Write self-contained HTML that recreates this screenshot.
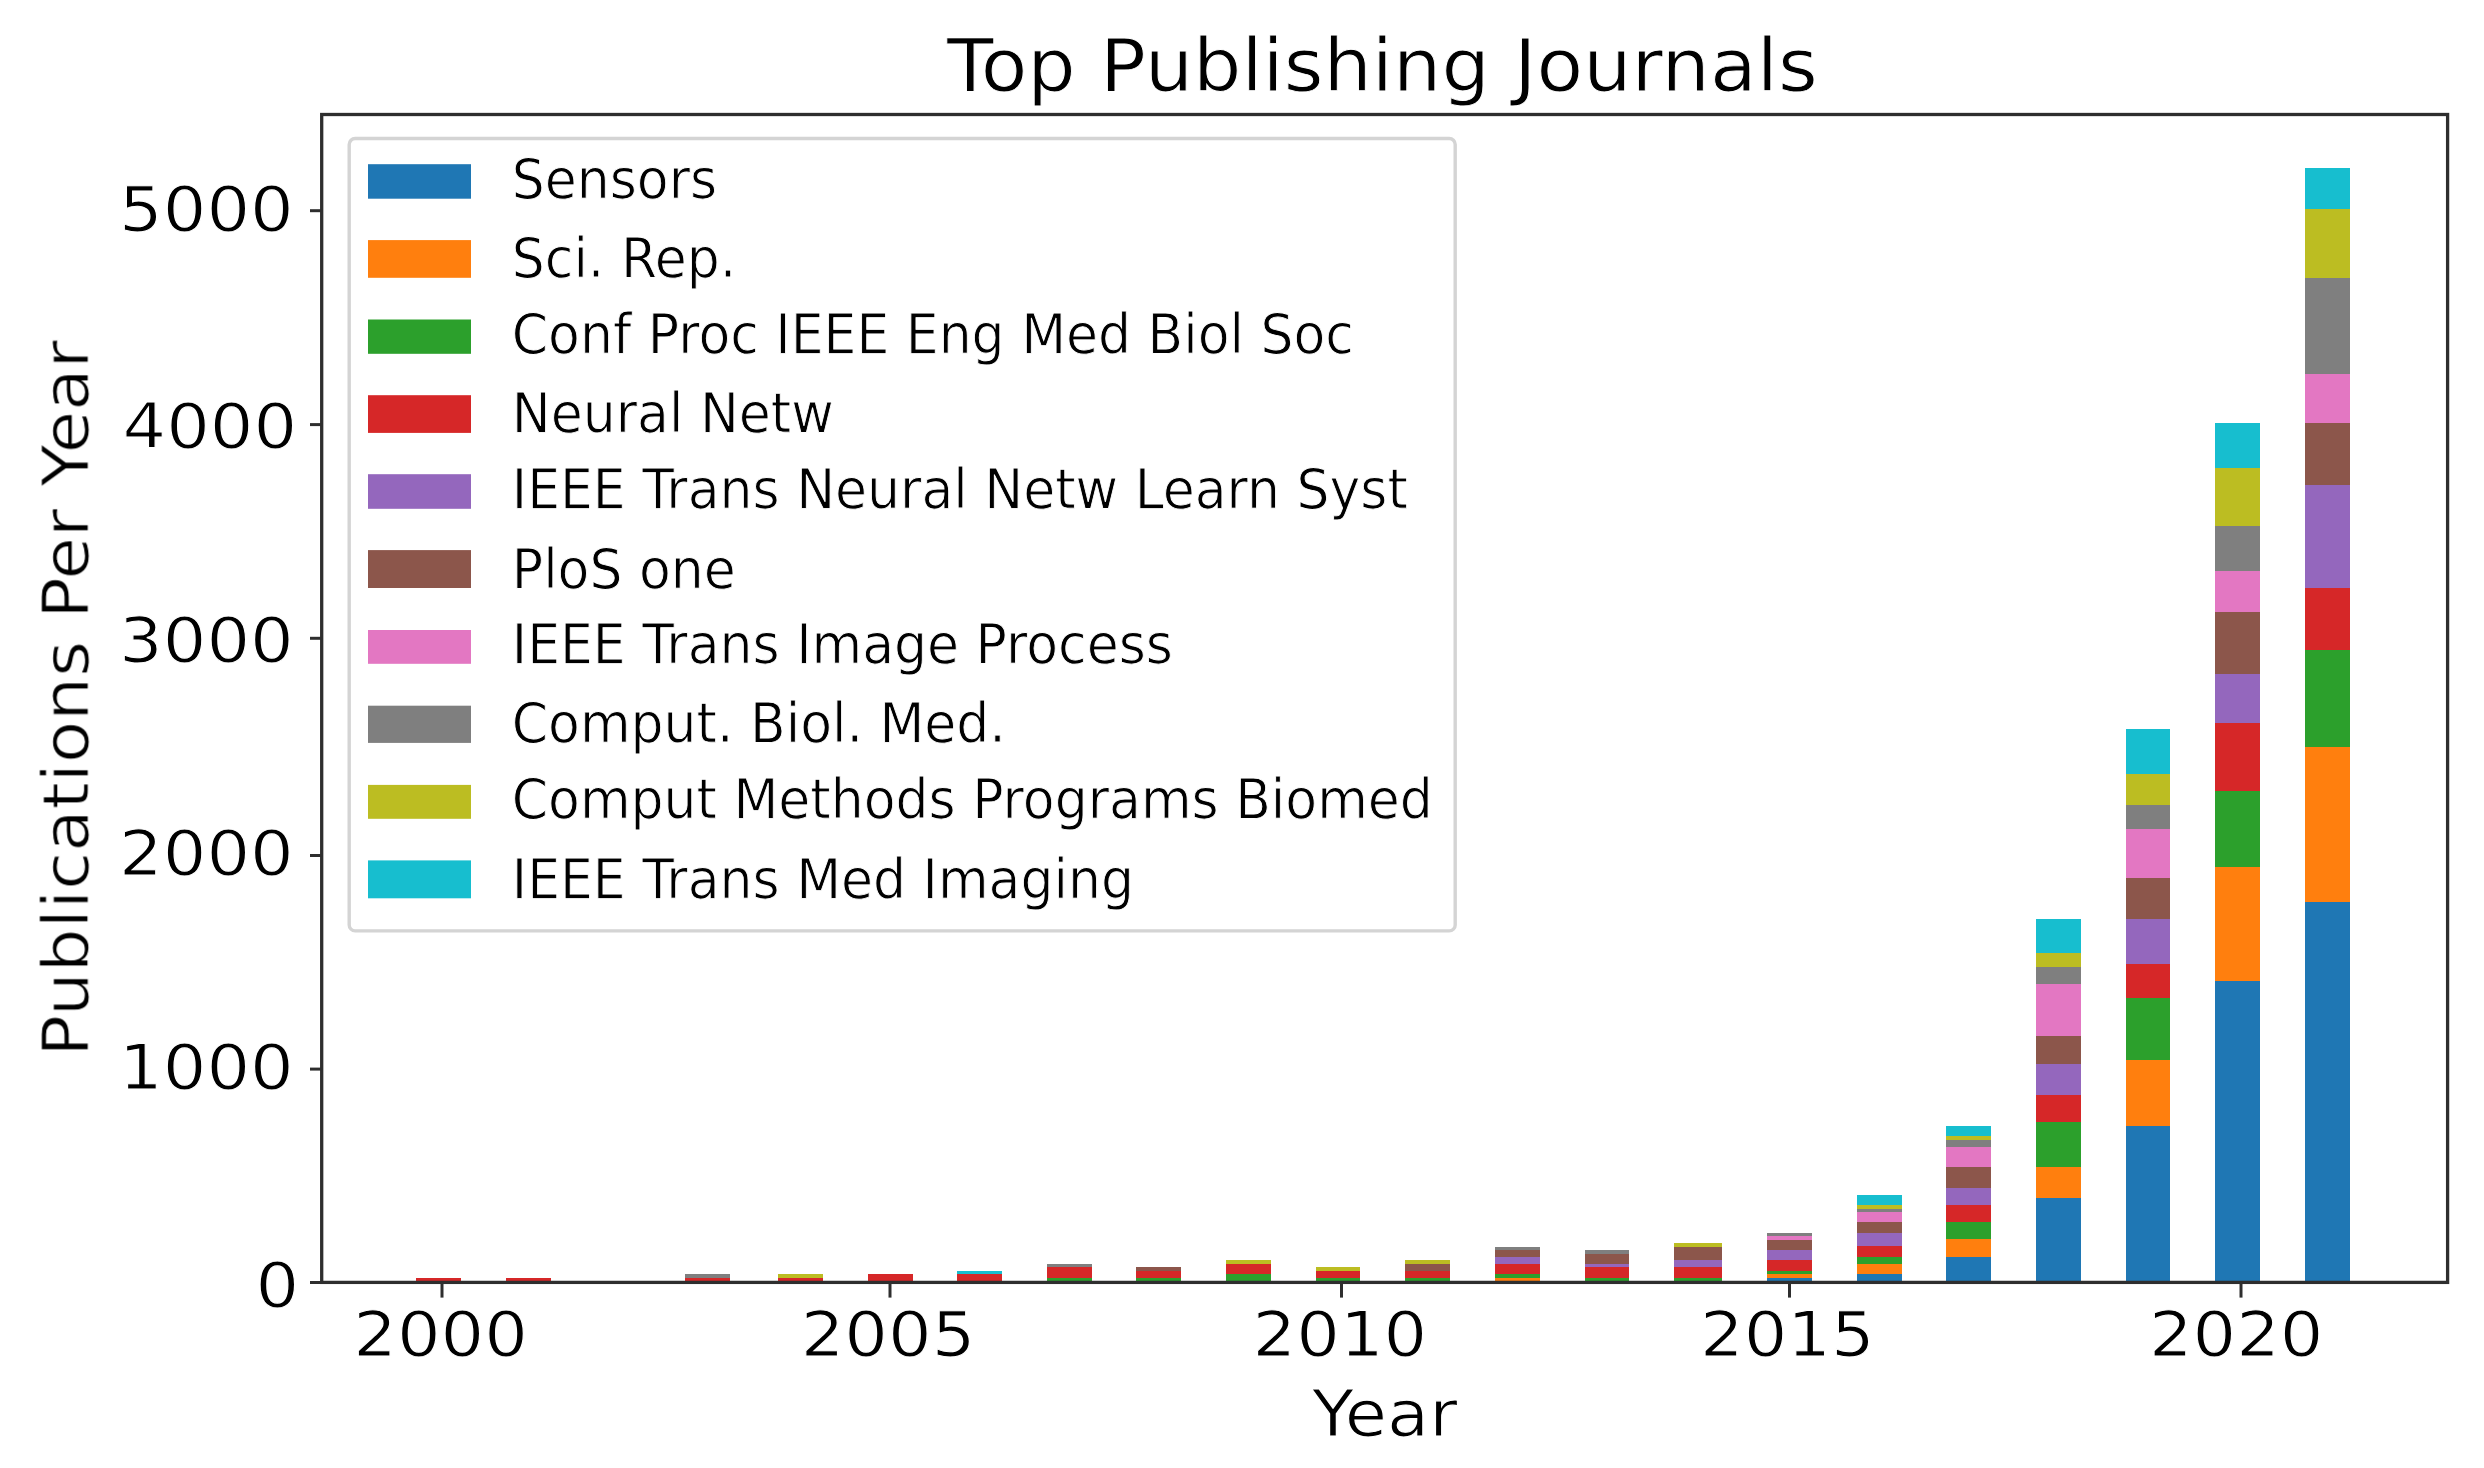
<!DOCTYPE html>
<html lang="en"><head><meta charset="utf-8"><title>Top Publishing Journals</title>
<style>
html,body{margin:0;padding:0;background:#fff;}
body{width:2484px;height:1468px;overflow:hidden;}
svg{display:block;}
.tx{filter:blur(0.6px);}
.k,.l{stroke:#fff;stroke-width:1.1px}.t{stroke:#fff;stroke-width:0.9px}.g{stroke:#fff;stroke-width:0.9px}
text{font-family:"DejaVu Sans","Liberation Sans",sans-serif;fill:#000;}
.t{font-size:73px}.l{font-size:64.2px}.k{font-size:63px}.g{font-size:54.3px}
</style></head><body>
<svg width="2484" height="1468" viewBox="0 0 2484 1468">
<rect width="2484" height="1468" fill="#fff"/>

<g shape-rendering="crispEdges">
<rect x="416" y="1277.6" width="44.8" height="4.9" fill="#d62728"/>
<rect x="505.8" y="1277.6" width="44.8" height="4.9" fill="#d62728"/>
<rect x="685" y="1274" width="44.7" height="8.5" fill="#7f7f7f"/>
<rect x="685" y="1277.6" width="44.7" height="4.9" fill="#d62728"/>
<rect x="778" y="1274" width="44.8" height="8.5" fill="#bcbd22"/>
<rect x="778" y="1277.6" width="44.8" height="4.9" fill="#d62728"/>
<rect x="867.7" y="1274" width="44.8" height="8.5" fill="#d62728"/>
<rect x="957.3" y="1270.7" width="44.6" height="11.8" fill="#17becf"/>
<rect x="957.3" y="1274" width="44.6" height="8.5" fill="#d62728"/>
<rect x="1047" y="1263.9" width="44.7" height="18.6" fill="#7f7f7f"/>
<rect x="1047" y="1267.1" width="44.7" height="15.4" fill="#d62728"/>
<rect x="1047" y="1277.6" width="44.7" height="4.9" fill="#2ca02c"/>
<rect x="1136.4" y="1267.1" width="44.8" height="15.4" fill="#8c564b"/>
<rect x="1136.4" y="1270.7" width="44.8" height="11.8" fill="#d62728"/>
<rect x="1136.4" y="1277.6" width="44.8" height="4.9" fill="#2ca02c"/>
<rect x="1226" y="1260.2" width="44.8" height="22.3" fill="#bcbd22"/>
<rect x="1226" y="1263.9" width="44.8" height="18.6" fill="#d62728"/>
<rect x="1226" y="1274" width="44.8" height="8.5" fill="#2ca02c"/>
<rect x="1315.8" y="1267.1" width="44.5" height="15.4" fill="#bcbd22"/>
<rect x="1315.8" y="1270.7" width="44.5" height="11.8" fill="#d62728"/>
<rect x="1315.8" y="1277.6" width="44.5" height="4.9" fill="#2ca02c"/>
<rect x="1405.2" y="1260.2" width="44.7" height="22.3" fill="#bcbd22"/>
<rect x="1405.2" y="1263.9" width="44.7" height="18.6" fill="#8c564b"/>
<rect x="1405.2" y="1270.7" width="44.7" height="11.8" fill="#d62728"/>
<rect x="1405.2" y="1277.6" width="44.7" height="4.9" fill="#2ca02c"/>
<rect x="1495" y="1246.5" width="44.7" height="36" fill="#7f7f7f"/>
<rect x="1495" y="1249.9" width="44.7" height="32.6" fill="#8c564b"/>
<rect x="1495" y="1257" width="44.7" height="25.5" fill="#9467bd"/>
<rect x="1495" y="1263.9" width="44.7" height="18.6" fill="#d62728"/>
<rect x="1495" y="1274" width="44.7" height="8.5" fill="#2ca02c"/>
<rect x="1495" y="1277.6" width="44.7" height="4.9" fill="#ff7f0e"/>
<rect x="1584.5" y="1250.2" width="44.5" height="32.3" fill="#7f7f7f"/>
<rect x="1584.5" y="1253.6" width="44.5" height="28.9" fill="#8c564b"/>
<rect x="1584.5" y="1263.9" width="44.5" height="18.6" fill="#9467bd"/>
<rect x="1584.5" y="1267.1" width="44.5" height="15.4" fill="#d62728"/>
<rect x="1584.5" y="1277.6" width="44.5" height="4.9" fill="#2ca02c"/>
<rect x="1674.2" y="1243.3" width="48" height="39.2" fill="#bcbd22"/>
<rect x="1674.2" y="1246.8" width="48" height="35.7" fill="#8c564b"/>
<rect x="1674.2" y="1260.2" width="48" height="22.3" fill="#9467bd"/>
<rect x="1674.2" y="1267.1" width="48" height="15.4" fill="#d62728"/>
<rect x="1674.2" y="1277.6" width="48" height="4.9" fill="#2ca02c"/>
<rect x="1767.1" y="1232.8" width="44.9" height="49.7" fill="#7f7f7f"/>
<rect x="1767.1" y="1236" width="44.9" height="46.5" fill="#e377c2"/>
<rect x="1767.1" y="1239.7" width="44.9" height="42.8" fill="#8c564b"/>
<rect x="1767.1" y="1249.9" width="44.9" height="32.6" fill="#9467bd"/>
<rect x="1767.1" y="1260.2" width="44.9" height="22.3" fill="#d62728"/>
<rect x="1767.1" y="1270.7" width="44.9" height="11.8" fill="#2ca02c"/>
<rect x="1767.1" y="1274" width="44.9" height="8.5" fill="#ff7f0e"/>
<rect x="1767.1" y="1277.6" width="44.9" height="4.9" fill="#1f77b4"/>
<rect x="1856.9" y="1194.7" width="44.9" height="87.8" fill="#17becf"/>
<rect x="1856.9" y="1205" width="44.9" height="77.5" fill="#bcbd22"/>
<rect x="1856.9" y="1208.7" width="44.9" height="73.8" fill="#7f7f7f"/>
<rect x="1856.9" y="1212" width="44.9" height="70.5" fill="#e377c2"/>
<rect x="1856.9" y="1222.3" width="44.9" height="60.2" fill="#8c564b"/>
<rect x="1856.9" y="1232.7" width="44.9" height="49.8" fill="#9467bd"/>
<rect x="1856.9" y="1246.4" width="44.9" height="36.1" fill="#d62728"/>
<rect x="1856.9" y="1256.8" width="44.9" height="25.7" fill="#2ca02c"/>
<rect x="1856.9" y="1263.7" width="44.9" height="18.8" fill="#ff7f0e"/>
<rect x="1856.9" y="1274" width="44.9" height="8.5" fill="#1f77b4"/>
<rect x="1946.1" y="1125.6" width="44.9" height="156.9" fill="#17becf"/>
<rect x="1946.1" y="1136" width="44.9" height="146.5" fill="#bcbd22"/>
<rect x="1946.1" y="1139.5" width="44.9" height="143" fill="#7f7f7f"/>
<rect x="1946.1" y="1146.5" width="44.9" height="136" fill="#e377c2"/>
<rect x="1946.1" y="1167" width="44.9" height="115.5" fill="#8c564b"/>
<rect x="1946.1" y="1187.7" width="44.9" height="94.8" fill="#9467bd"/>
<rect x="1946.1" y="1204.9" width="44.9" height="77.6" fill="#d62728"/>
<rect x="1946.1" y="1222" width="44.9" height="60.5" fill="#2ca02c"/>
<rect x="1946.1" y="1239.4" width="44.9" height="43.1" fill="#ff7f0e"/>
<rect x="1946.1" y="1256.6" width="44.9" height="25.9" fill="#1f77b4"/>
<rect x="2035.9" y="918.8" width="44.9" height="363.7" fill="#17becf"/>
<rect x="2035.9" y="953.4" width="44.9" height="329.1" fill="#bcbd22"/>
<rect x="2035.9" y="967.1" width="44.9" height="315.4" fill="#7f7f7f"/>
<rect x="2035.9" y="984.4" width="44.9" height="298.1" fill="#e377c2"/>
<rect x="2035.9" y="1036" width="44.9" height="246.5" fill="#8c564b"/>
<rect x="2035.9" y="1063.8" width="44.9" height="218.7" fill="#9467bd"/>
<rect x="2035.9" y="1094.6" width="44.9" height="187.9" fill="#d62728"/>
<rect x="2035.9" y="1122.3" width="44.9" height="160.2" fill="#2ca02c"/>
<rect x="2035.9" y="1167" width="44.9" height="115.5" fill="#ff7f0e"/>
<rect x="2035.9" y="1198" width="44.9" height="84.5" fill="#1f77b4"/>
<rect x="2125.6" y="729.3" width="44.8" height="553.2" fill="#17becf"/>
<rect x="2125.6" y="774.2" width="44.8" height="508.3" fill="#bcbd22"/>
<rect x="2125.6" y="805.3" width="44.8" height="477.2" fill="#7f7f7f"/>
<rect x="2125.6" y="829.3" width="44.8" height="453.2" fill="#e377c2"/>
<rect x="2125.6" y="877.7" width="44.8" height="404.8" fill="#8c564b"/>
<rect x="2125.6" y="918.8" width="44.8" height="363.7" fill="#9467bd"/>
<rect x="2125.6" y="963.8" width="44.8" height="318.7" fill="#d62728"/>
<rect x="2125.6" y="998.2" width="44.8" height="284.3" fill="#2ca02c"/>
<rect x="2125.6" y="1060.3" width="44.8" height="222.2" fill="#ff7f0e"/>
<rect x="2125.6" y="1125.6" width="44.8" height="156.9" fill="#1f77b4"/>
<rect x="2215" y="422.5" width="45" height="860" fill="#17becf"/>
<rect x="2215" y="467.7" width="45" height="814.8" fill="#bcbd22"/>
<rect x="2215" y="526" width="45" height="756.5" fill="#7f7f7f"/>
<rect x="2215" y="570.9" width="45" height="711.6" fill="#e377c2"/>
<rect x="2215" y="612" width="45" height="670.5" fill="#8c564b"/>
<rect x="2215" y="674.2" width="45" height="608.3" fill="#9467bd"/>
<rect x="2215" y="722.5" width="45" height="560" fill="#d62728"/>
<rect x="2215" y="791.4" width="45" height="491.1" fill="#2ca02c"/>
<rect x="2215" y="867.1" width="45" height="415.4" fill="#ff7f0e"/>
<rect x="2215" y="980.7" width="45" height="301.8" fill="#1f77b4"/>
<rect x="2304.8" y="167.6" width="44.8" height="1114.9" fill="#17becf"/>
<rect x="2304.8" y="208.9" width="44.8" height="1073.6" fill="#bcbd22"/>
<rect x="2304.8" y="277.8" width="44.8" height="1004.7" fill="#7f7f7f"/>
<rect x="2304.8" y="374.4" width="44.8" height="908.1" fill="#e377c2"/>
<rect x="2304.8" y="422.8" width="44.8" height="859.7" fill="#8c564b"/>
<rect x="2304.8" y="484.6" width="44.8" height="797.9" fill="#9467bd"/>
<rect x="2304.8" y="587.8" width="44.8" height="694.7" fill="#d62728"/>
<rect x="2304.8" y="650" width="44.8" height="632.5" fill="#2ca02c"/>
<rect x="2304.8" y="746.7" width="44.8" height="535.8" fill="#ff7f0e"/>
<rect x="2304.8" y="901.7" width="44.8" height="380.8" fill="#1f77b4"/>
</g>
<g>
<rect x="349.2" y="138.5" width="1106" height="792.4" rx="6" ry="6" fill="#fff" fill-opacity="0.8" stroke="#d4d4d4" stroke-width="3.4"/>
<rect x="368" y="164.2" width="103" height="34.5" fill="#1f77b4"/>
<rect x="368" y="240.1" width="103" height="37.7" fill="#ff7f0e"/>
<rect x="368" y="319.5" width="103" height="34.3" fill="#2ca02c"/>
<rect x="368" y="395.2" width="103" height="37.7" fill="#d62728"/>
<rect x="368" y="474.2" width="103" height="34.6" fill="#9467bd"/>
<rect x="368" y="550.1" width="103" height="37.9" fill="#8c564b"/>
<rect x="368" y="630" width="103" height="33.8" fill="#e377c2"/>
<rect x="368" y="705.7" width="103" height="37.2" fill="#7f7f7f"/>
<rect x="368" y="784.9" width="103" height="33.9" fill="#bcbd22"/>
<rect x="368" y="860.4" width="103" height="37.9" fill="#17becf"/>
</g>
<rect x="321.7" y="114.5" width="2125.9" height="1167.9" fill="none" stroke="#2e2e2e" stroke-width="3.3"/>
<g stroke="#2e2e2e" stroke-width="3">
<line x1="442" y1="1283" x2="442" y2="1297.6"/>
<line x1="890" y1="1283" x2="890" y2="1297.6"/>
<line x1="1341.5" y1="1283" x2="1341.5" y2="1297.6"/>
<line x1="1789.5" y1="1283" x2="1789.5" y2="1297.6"/>
<line x1="2241" y1="1283" x2="2241" y2="1297.6"/>
<line x1="310" y1="210.7" x2="321" y2="210.7"/>
<line x1="310" y1="424.6" x2="321" y2="424.6"/>
<line x1="310" y1="638.3" x2="321" y2="638.3"/>
<line x1="310" y1="855.5" x2="321" y2="855.5"/>
<line x1="310" y1="1069.1" x2="321" y2="1069.1"/>
<line x1="310" y1="1282.5" x2="321" y2="1282.5"/>
</g>
<g class="tx">
<text class="g" transform="translate(511.8 198.2) scale(0.958 1)">Sensors</text>
<text class="g" transform="translate(511.8 277.3) scale(0.958 1)">Sci. Rep.</text>
<text class="g" transform="translate(511.8 353.3) scale(0.958 1)">Conf Proc IEEE Eng Med Biol Soc</text>
<text class="g" transform="translate(511.8 432.4) scale(0.958 1)">Neural Netw</text>
<text class="g" transform="translate(511.8 508.3) scale(0.958 1)">IEEE Trans Neural Netw Learn Syst</text>
<text class="g" transform="translate(511.8 587.5) scale(0.958 1)">PloS one</text>
<text class="g" transform="translate(511.8 663.3) scale(0.958 1)">IEEE Trans Image Process</text>
<text class="g" transform="translate(511.8 742.4) scale(0.958 1)">Comput. Biol. Med.</text>
<text class="g" transform="translate(511.8 818.3) scale(0.958 1)">Comput Methods Programs Biomed</text>
<text class="g" transform="translate(511.8 897.8) scale(0.958 1)">IEEE Trans Med Imaging</text>
<text class="k" text-anchor="middle" transform="translate(440.6 1356) scale(1.089 1)">2000</text>
<text class="k" text-anchor="middle" transform="translate(888 1356) scale(1.089 1)">2005</text>
<text class="k" text-anchor="middle" transform="translate(1339.9 1356) scale(1.089 1)">2010</text>
<text class="k" text-anchor="middle" transform="translate(1787.3 1356) scale(1.089 1)">2015</text>
<text class="k" text-anchor="middle" transform="translate(2236.2 1356) scale(1.089 1)">2020</text>
<text class="k" text-anchor="end" transform="translate(293.7 230.8) scale(1.089 1)">5000</text>
<text class="k" text-anchor="end" transform="translate(297.1 447.7) scale(1.089 1)">4000</text>
<text class="k" text-anchor="end" transform="translate(293.7 662) scale(1.089 1)">3000</text>
<text class="k" text-anchor="end" transform="translate(293.7 875.3) scale(1.089 1)">2000</text>
<text class="k" text-anchor="end" transform="translate(293.7 1088.8) scale(1.089 1)">1000</text>
<text class="k" text-anchor="end" transform="translate(299.1 1306.9) scale(1.089 1)">0</text>
<text class="l" text-anchor="middle" transform="translate(1384.7 1436.2) scale(1.069 1)">Year</text>
<text class="l" text-anchor="middle" transform="translate(88.3 698.4) rotate(-90) scale(1.078 1)">Publications Per Year</text>
<text class="t" transform="translate(947 91) scale(1.045 1)">Top Publishing Journals</text>
</g>
</svg>
</body></html>
